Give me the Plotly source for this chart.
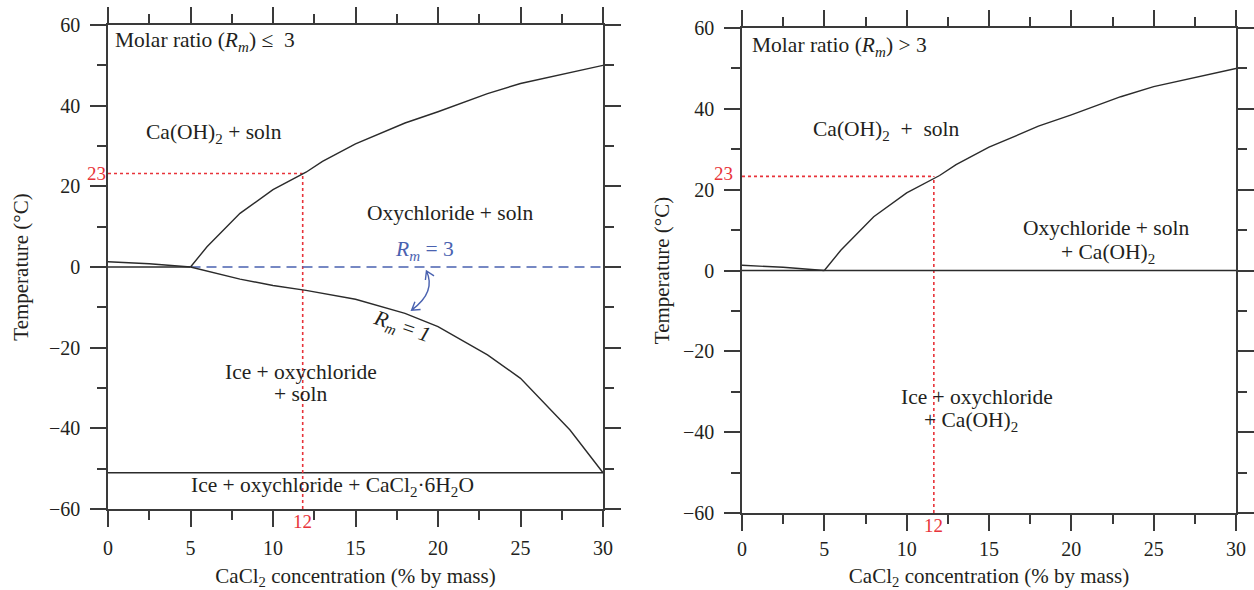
import math
import plotly.graph_objects as go

# ---------------- data ----------------
ice_x = [0, 2.5, 5]
ice_y = [1.3, 0.8, 0]
caoh_x = [5, 6, 8, 10, 12, 13, 15, 18, 20, 23, 25, 28, 30]
caoh_y = [0, 5, 13.3, 19.2, 23.5, 26.2, 30.5, 35.7, 38.5, 43, 45.5, 48.2, 50]
rm1_x = [5, 8, 10, 12, 15, 18, 20, 23, 25, 28, 30]
rm1_y = [0, -3.0, -4.6, -5.8, -8.0, -11.5, -14.8, -21.8, -27.6, -40.4, -51]
zero_left_x = [0, 5]
rm3_x = [5, 30]
full_x = [0, 30]
eutectic_y = -51
red_x_left, red_y_left = 11.8, 23.2
red_x_right, red_y_right = 11.65, 23.3
x_ticks = [0, 5, 10, 15, 20, 25, 30]
y_ticks = [-60, -40, -20, 0, 20, 40, 60]
x_range = [0, 30]
y_range = [-60, 60]

FONT = "Liberation Serif"
TXT = "#231f20"
AX = "#3a3a3a"
CURVE = "#2b2b2b"
RED = "#e8333a"
BLUE = "#4a62b0"
ANN_SIZE = 21.5

fig = go.Figure()


def line(x, y, xa, ya, color=CURVE, dash="solid", width=1.4):
    fig.add_trace(go.Scatter(x=x, y=y, xaxis=xa, yaxis=ya, mode="lines",
                             line=dict(color=color, dash=dash, width=width),
                             showlegend=False, hoverinfo="skip"))


# left panel
line(full_x, [eutectic_y, eutectic_y], "x", "y", width=1.4)
line([0, red_x_left], [red_y_left, red_y_left], "x", "y", RED, "dot", 1.6)
line([red_x_left, red_x_left], [y_range[0], red_y_left], "x", "y", RED, "dot", 1.6)
line(ice_x, ice_y, "x", "y")
line(zero_left_x, [0, 0], "x", "y")
line(rm3_x, [0, 0], "x", "y", BLUE, "10px,6px", 1.5)
line(caoh_x, caoh_y, "x", "y")
line(rm1_x, rm1_y, "x", "y")

# right panel
line([0, red_x_right], [red_y_right, red_y_right], "x2", "y2", RED, "dot", 1.6)
line([red_x_right, red_x_right], [y_range[0], red_y_right], "x2", "y2", RED, "dot", 1.6)
line(ice_x, ice_y, "x2", "y2")
line(full_x, [0, 0], "x2", "y2")
line(caoh_x, caoh_y, "x2", "y2")


def xaxis(domain, anchor, lab_off, title_off):
    return dict(domain=domain, anchor=anchor, range=x_range, showline=True,
                linecolor=AX, linewidth=1.5, mirror="ticks", ticks="outside",
                ticklen=16, tickwidth=1.5, tickcolor=AX, tickmode="array",
                tickvals=x_ticks, showgrid=False, zeroline=False, automargin=False,
                minor=dict(ticks="outside", ticklen=9, tickwidth=1.5, tickcolor=AX,
                           tickmode="linear", tick0=0, dtick=2.5, showgrid=False),
                tickfont=dict(family=FONT, size=20, color=TXT), ticklabelstandoff=lab_off,
                title=dict(text="CaCl<sub>2</sub> concentration (% by mass)",
                           font=dict(family=FONT, size=21, color=TXT), standoff=title_off),
                fixedrange=True)


def yaxis(domain, anchor, title_off):
    return dict(domain=domain, anchor=anchor, range=y_range, showline=True,
                linecolor=AX, linewidth=1.5, mirror="ticks", ticks="outside",
                ticklen=16, tickwidth=1.5, tickcolor=AX, tickmode="array",
                tickvals=y_ticks, showgrid=False, zeroline=False, automargin=False,
                minor=dict(ticks="outside", ticklen=9, tickwidth=1.5, tickcolor=AX,
                           tickmode="linear", tick0=0, dtick=10, showgrid=False),
                tickfont=dict(family=FONT, size=20, color=TXT), ticklabelstandoff=6,
                title=dict(text="Temperature (°C)",
                           font=dict(family=FONT, size=21, color=TXT), standoff=title_off),
                fixedrange=True)


W, H = 1254, 590
fig.update_layout(
    width=W, height=H, margin=dict(l=0, r=0, t=0, b=0, autoexpand=False),
    paper_bgcolor="white", plot_bgcolor="white",
    font=dict(family=FONT, size=20, color=TXT),
    xaxis=xaxis([108 / W, 603 / W], "y", 4, 12),
    yaxis=yaxis([1 - 509 / H, 1 - 25 / H], "x", 15),
    xaxis2=xaxis([742 / W, 1236 / W], "y2", 1, 15),
    yaxis2=yaxis([1 - 513 / H, 1 - 28 / H], "x2", 8),
)

Rm = "<i>R</i><sub><i>m</i></sub>"
anns = [
    # left panel
    dict(x=0.3, y=55.8, xref="x", yref="y", text=f"Molar ratio ({Rm}) ≤\u00a0 3", xanchor="left"),
    dict(x=6.4, y=33.2, xref="x", yref="y", text="Ca(OH)<sub>2</sub> + soln"),
    dict(x=20.7, y=13.4, xref="x", yref="y", text="Oxychloride + soln"),
    dict(x=19.2, y=4.2, xref="x", yref="y", text=f"{Rm} = 3", font=dict(color=BLUE)),
    dict(x=17.8, y=-15.1, xref="x", yref="y", text=f"{Rm} = <i>1</i>", textangle=19),
    dict(x=11.7, y=-26.0, xref="x", yref="y", text="Ice + oxychloride"),
    dict(x=11.7, y=-31.5, xref="x", yref="y", text="+ soln"),
    dict(x=13.6, y=-54.5, xref="x", yref="y", text="Ice + oxychloride + CaCl<sub>2</sub>·6H<sub>2</sub>O"),
    dict(x=0, y=red_y_left, xref="x", yref="y", text="23", xanchor="right", xshift=0,
         font=dict(color=RED, size=19)),
    dict(x=red_x_left, y=y_range[0], xref="x", yref="y", text="12", yanchor="top", yshift=0,
         font=dict(color=RED, size=19)),
    # right panel
    dict(x=0.5, y=55.4, xref="x2", yref="y2", text=f"Molar ratio ({Rm}) > 3", xanchor="left"),
    dict(x=8.8, y=34.7, xref="x2", yref="y2", text="Ca(OH)<sub>2</sub>\u00a0 +\u00a0 soln"),
    dict(x=22.1, y=10.5, xref="x2", yref="y2", text="Oxychloride + soln"),
    dict(x=22.2, y=4.3, xref="x2", yref="y2", text="+ Ca(OH)<sub>2</sub>"),
    dict(x=14.3, y=-31.2, xref="x2", yref="y2", text="Ice + oxychloride"),
    dict(x=13.9, y=-37.4, xref="x2", yref="y2", text="+ Ca(OH)<sub>2</sub>"),
    dict(x=0, y=red_y_right + 0.7, xref="x2", yref="y2", text="23", xanchor="right", xshift=-7,
         font=dict(color=RED, size=19)),
    dict(x=red_x_right, y=y_range[0], xref="x2", yref="y2", text="12", yanchor="top", yshift=0,
         font=dict(color=RED, size=19)),
]
for a in anns:
    a.setdefault("showarrow", False)
    f = dict(family=FONT, size=ANN_SIZE, color=TXT)
    f.update(a.get("font", {}))
    a["font"] = f
    fig.add_annotation(**a)

# curved double-headed arrow between R_m = 3 and R_m = 1 (left panel)
px_per_x = (603 - 108) / 30
px_per_y = (509 - 25) / 120
p0 = (19.3, -1.0)
pc = (19.9, -6.2)
p1 = (18.4, -10.7)


def head(tip, ctrl, L=9, ang=32):
    dx = (tip[0] - ctrl[0]) * px_per_x
    dy = -(tip[1] - ctrl[1]) * px_per_y
    n = math.hypot(dx, dy)
    dx, dy = dx / n, dy / n
    segs = []
    for s in (-1, 1):
        a = math.radians(ang) * s
        bx = -(dx * math.cos(a) - dy * math.sin(a)) * L
        by = -(dx * math.sin(a) + dy * math.cos(a)) * L
        segs.append((tip[0] + bx / px_per_x, tip[1] - by / px_per_y))
    return segs


h0 = head(p0, pc)
h1 = head(p1, pc)
path = (f"M {p0[0]},{p0[1]} Q {pc[0]},{pc[1]} {p1[0]},{p1[1]} "
        f"M {h0[0][0]},{h0[0][1]} L {p0[0]},{p0[1]} L {h0[1][0]},{h0[1][1]} "
        f"M {h1[0][0]},{h1[0][1]} L {p1[0]},{p1[1]} L {h1[1][0]},{h1[1][1]}")
fig.add_shape(type="path", path=path, xref="x", yref="y",
              line=dict(color=BLUE, width=1.4))

fig.write_html("out.html")
